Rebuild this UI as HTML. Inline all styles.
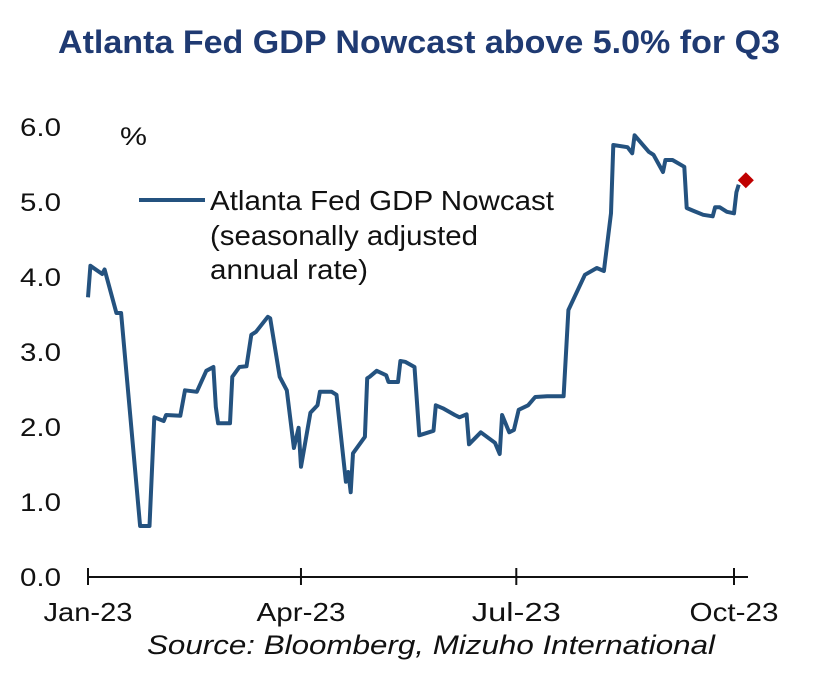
<!DOCTYPE html>
<html><head><meta charset="utf-8"><style>
body{margin:0;background:#fff;width:836px;height:682px;overflow:hidden}
svg text{font-family:"Liberation Sans",sans-serif}
</style></head><body>
<svg id="c" width="836" height="682">
<text x="58" y="53" font-size="32" font-weight="bold" fill="#1f3a72" textLength="722" lengthAdjust="spacingAndGlyphs">Atlanta Fed GDP Nowcast above 5.0% for Q3</text>
<text x="120" y="145" font-size="25" fill="#111" textLength="27" lengthAdjust="spacingAndGlyphs">%</text>
<line x1="139" y1="200" x2="205" y2="200" stroke="#24527f" stroke-width="4"/>
<text x="210" y="210" font-size="28" fill="#111" textLength="344" lengthAdjust="spacingAndGlyphs">Atlanta Fed GDP Nowcast</text>
<text x="210" y="245" font-size="28" fill="#111" textLength="268" lengthAdjust="spacingAndGlyphs">(seasonally adjusted</text>
<text x="210" y="279" font-size="28" fill="#111" textLength="158" lengthAdjust="spacingAndGlyphs">annual rate)</text>
<text x="147" y="654" font-size="27" font-style="italic" fill="#111" textLength="568" lengthAdjust="spacingAndGlyphs">Source: Bloomberg, Mizuho International</text>
<g id="axes"></g>
<g id="marks"></g>
</svg>
<script>
const days=[0,1,6,7,12,14,22,26,28,32,33,39,41,46,50,53,54,55,60,61,64,67,69,71,76,77,81,84,87,89,90,94,97,98,103,105,109,110,111,112,117,118,119,122,126,127,131,132,134,138,140,146,147,150,155,157,160,161,166,172,174,175,178,180,182,186,189,194,201,203,210,215,218,221,222,228,230,231,237,239,243,244,247,252,253,256,260,264,265,267,270,273,274,275];
const values=[3.73,4.15,4.04,4.1,3.52,3.52,0.68,0.68,2.13,2.08,2.16,2.15,2.49,2.47,2.75,2.8,2.27,2.05,2.05,2.67,2.8,2.81,3.23,3.27,3.47,3.45,2.67,2.49,1.72,1.99,1.47,2.19,2.29,2.47,2.47,2.43,1.27,1.4,1.13,1.65,1.87,2.65,2.67,2.75,2.69,2.6,2.6,2.88,2.87,2.8,1.89,1.95,2.29,2.25,2.16,2.13,2.17,1.77,1.93,1.79,1.64,2.16,1.93,1.96,2.23,2.29,2.4,2.41,2.41,3.56,4.03,4.12,4.08,4.85,5.76,5.73,5.65,5.89,5.67,5.63,5.4,5.56,5.56,5.47,4.92,4.88,4.83,4.81,4.93,4.93,4.87,4.85,5.13,5.23];
const latestDay=[278];
const latestValue=[5.29];
const yTicks=[0,1,2,3,4,5,6];
const yTickLabels=["0.0","1.0","2.0","3.0","4.0","5.0","6.0"];
const xTickDays=[0,90,181,273];
const xTickLabels=["Jan-23","Apr-23","Jul-23","Oct-23"];
const NS="http://www.w3.org/2000/svg";
const xs=d=>88+d*(734-88)/273;
const ys=v=>577-v*75;
function mk(t,a,p){const e=document.createElementNS(NS,t);for(const k in a)e.setAttribute(k,a[k]);p.appendChild(e);return e;}
const ax=document.getElementById('axes'),mg=document.getElementById('marks');
const base=mk('line',{x1:88,y1:577,x2:748,y2:577,stroke:'#111','stroke-width':2},ax);


yTicks.forEach((v,i)=>{const t=mk('text',{x:20,y:ys(v)+9,'font-size':25,fill:'#111',textLength:41,lengthAdjust:'spacingAndGlyphs'},ax);t.textContent=yTickLabels[i];

});
xTickDays.forEach((d,i)=>{const l=mk('line',{x1:xs(d),y1:568,x2:xs(d),y2:585,stroke:'#111','stroke-width':2},ax);


const t=mk('text',{x:xs(d),y:621,'text-anchor':'middle','font-size':26,fill:'#111',textLength:89,lengthAdjust:'spacingAndGlyphs'},ax);t.textContent=xTickLabels[i];

});
const pts=days.map((d,i)=>xs(d).toFixed(1)+','+ys(values[i]).toFixed(1)).join(' ');
const pl=mk('polyline',{points:pts,fill:'none',stroke:'#24527f','stroke-width':4,'stroke-linejoin':'round'},mg);


const cx=xs(latestDay[0]),cy=ys(latestValue[0]);
const dm=mk('polygon',{points:`${cx},${cy-8} ${cx+8},${cy} ${cx},${cy+8} ${cx-8},${cy}`,fill:'#c00000'},mg);


</script>
</body></html>
